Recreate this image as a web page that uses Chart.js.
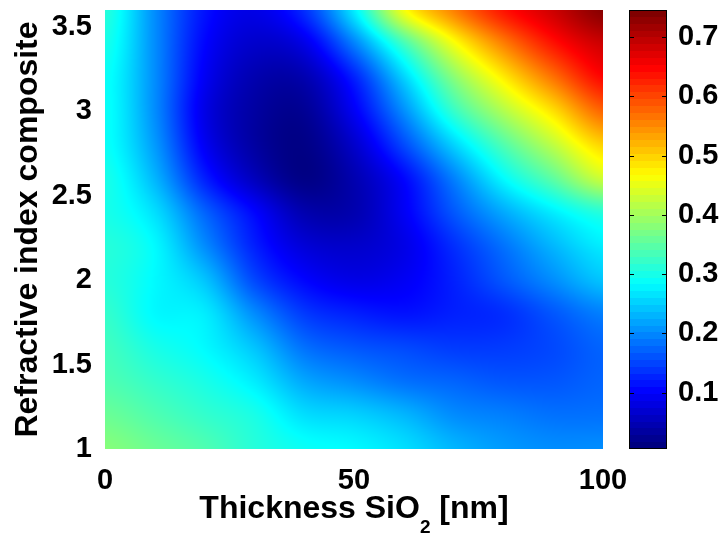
<!DOCTYPE html>
<html>
<head>
<meta charset="utf-8">
<script src="https://cdn.jsdelivr.net/npm/chart.js@4.4.1/dist/chart.umd.min.js"></script>
<style>
  html, body { margin: 0; padding: 0; background: #fff; }
  #wrap { position: relative; width: 720px; height: 535px; }
  #wrap canvas { position: absolute; left: 0; top: 0; }
</style>
</head>
<body>
<div id="wrap">
  <canvas id="mapChart" width="720" height="535"></canvas>
  <canvas id="barChart" width="720" height="535"></canvas>
</div>
<script>
// === DATA ===
// grid columns: SiO2 thickness (nm)
const thickness = [0, 10, 20, 30, 40, 50, 60, 70, 80, 90, 100];
// grid rows: refractive index of the composite
const refIndex = [1.0, 1.2, 1.4, 1.6, 1.8, 2.0, 2.2, 2.4, 2.6, 2.8, 3.0, 3.2, 3.4, 3.6];

// reflectance values, one row per refractive index
const n10 = [0.38, 0.36, 0.34, 0.31, 0.29, 0.28, 0.26, 0.23, 0.21, 0.20, 0.20];
const n12 = [0.36, 0.34, 0.32, 0.30, 0.26, 0.25, 0.23, 0.20, 0.19, 0.18, 0.18];
const n14 = [0.34, 0.32, 0.30, 0.27, 0.22, 0.20, 0.18, 0.17, 0.16, 0.16, 0.17];
const n16 = [0.33, 0.30, 0.28, 0.24, 0.18, 0.16, 0.15, 0.14, 0.14, 0.15, 0.17];
const n18 = [0.32, 0.28, 0.27, 0.20, 0.14, 0.12, 0.11, 0.12, 0.13, 0.16, 0.19];
const n20 = [0.31, 0.28, 0.24, 0.15, 0.10, 0.08, 0.09, 0.12, 0.16, 0.20, 0.24];
const n22 = [0.31, 0.28, 0.20, 0.12, 0.07, 0.06, 0.08, 0.13, 0.18, 0.23, 0.27];
const n24 = [0.30, 0.26, 0.17, 0.10, 0.04, 0.04, 0.09, 0.16, 0.22, 0.27, 0.31];
const n26 = [0.30, 0.23, 0.12, 0.05, 0.01, 0.04, 0.10, 0.19, 0.28, 0.35, 0.43];
const n28 = [0.29, 0.21, 0.09, 0.03, 0.01, 0.06, 0.15, 0.25, 0.34, 0.42, 0.50];
const n30 = [0.29, 0.20, 0.08, 0.03, 0.02, 0.09, 0.20, 0.32, 0.41, 0.49, 0.58];
const n32 = [0.29, 0.20, 0.09, 0.04, 0.04, 0.12, 0.25, 0.38, 0.48, 0.57, 0.65];
const n34 = [0.30, 0.20, 0.10, 0.06, 0.08, 0.19, 0.33, 0.46, 0.56, 0.64, 0.69];
const n36 = [0.31, 0.20, 0.11, 0.08, 0.13, 0.27, 0.46, 0.56, 0.64, 0.69, 0.74];
const reflectance = [n10, n12, n14, n16, n18, n20, n22, n24, n26, n28, n30, n32, n34, n36];

// tick labels
const xTicks = [0, 50, 100];
const yTicks = [1, 1.5, 2, 2.5, 3, 3.5];
const cbTicks = [0.1, 0.2, 0.3, 0.4, 0.5, 0.6, 0.7];

// colour limits of the colour bar
const cMin = 0.005;
const cMax = 0.746;

// === HELPERS ===
const FONT = "'Liberation Sans', Arial, sans-serif";

// MATLAB jet; levels = 0 gives a continuous map
function jet(t, levels) {
    t = Math.min(1, Math.max(0, t));
    if (levels) t = Math.min(levels - 1, Math.floor(t * levels)) / (levels - 1);
    const c = d => Math.round(255 * Math.min(1, Math.max(0, 1.5 - Math.abs(4 * t - d))));
    return [c(3), c(2), c(1)];
}

// Catmull-Rom between grid nodes (shading interp)
function cr(p0, p1, p2, p3, f) {
    return p1 + 0.5 * f * (p2 - p0 + f * (2 * p0 - 5 * p1 + 4 * p2 - p3 + f * (3 * (p1 - p2) + p3 - p0)));
}
function cellValue(tx, ny) {
    const nx = thickness.length, nyl = refIndex.length;
    const gx = (tx - thickness[0]) / (thickness[1] - thickness[0]);
    const gy = (ny - refIndex[0]) / (refIndex[1] - refIndex[0]);
    const xi = Math.max(0, Math.min(nx - 2, Math.floor(gx)));
    const yi = Math.max(0, Math.min(nyl - 2, Math.floor(gy + 1e-9)));
    const fx = Math.max(0, Math.min(1, gx - xi));
    const fy = Math.max(0, Math.min(1, gy - yi));
    const at = (i, j) => reflectance[Math.max(0, Math.min(nyl - 1, i))][Math.max(0, Math.min(nx - 1, j))];
    const rows = [];
    for (let k = -1; k <= 2; k++) {
        rows.push(cr(at(yi + k, xi - 1), at(yi + k, xi), at(yi + k, xi + 1), at(yi + k, xi + 2), fx));
    }
    return cr(rows[0], rows[1], rows[2], rows[3], fy);
}

// points of the grid, used by the heatmap plugin
const gridPoints = [];
refIndex.forEach((n, i) => thickness.forEach((t, j) => gridPoints.push({ x: t, y: n, v: reflectance[i][j] })));

// === PLUGINS ===
const heatmapPlugin = {
    id: 'heatmap',
    beforeDatasetsDraw(chart) {
        const { ctx, chartArea: a, scales: { x, y } } = chart;
        const w = Math.round(a.right - a.left), h = Math.round(a.bottom - a.top);
        const off = document.createElement('canvas');
        off.width = w; off.height = h;
        const octx = off.getContext('2d');
        const img = octx.createImageData(w, h);
        for (let py = 0; py < h; py++) {
            const n = y.getValueForPixel(a.top + py + 0.5);
            for (let px = 0; px < w; px++) {
                const t = x.getValueForPixel(a.left + px + 0.5);
                const [r, g, b] = jet((cellValue(t, n) - cMin) / (cMax - cMin), 0);
                const k = (py * w + px) * 4;
                img.data[k] = r; img.data[k + 1] = g; img.data[k + 2] = b; img.data[k + 3] = 255;
            }
        }
        octx.putImageData(img, 0, 0);
        ctx.drawImage(off, a.left, a.top);
    },
    afterDraw(chart) {
        // x title with subscript
        const { ctx, chartArea: a } = chart;
        const parts = [['Thickness SiO', 32, 518], ['2', 19, 533], [' [nm]', 32, 518]];
        ctx.save();
        ctx.fillStyle = '#000';
        ctx.textBaseline = 'alphabetic';
        let total = 0;
        const widths = parts.map(p => { ctx.font = `bold ${p[1]}px ${FONT}`; const m = ctx.measureText(p[0]).width; total += m; return m; });
        let cx = (a.left + a.right) / 2 - total / 2;
        parts.forEach((p, i) => {
            ctx.font = `bold ${p[1]}px ${FONT}`;
            ctx.fillText(p[0], cx, p[2]);
            cx += widths[i];
        });
        ctx.restore();
    }
};

const colorbarPlugin = {
    id: 'colorbar',
    beforeDraw(chart) {
        const { ctx, chartArea: a, scales: { y } } = chart;
        ctx.save();
        for (let py = Math.round(a.top); py < Math.round(a.bottom); py++) {
            const [r, g, b] = jet((y.getValueForPixel(py + 0.5) - cMin) / (cMax - cMin), 64);
            ctx.fillStyle = `rgb(${r},${g},${b})`;
            ctx.fillRect(a.left, py, a.right - a.left, 1);
        }
        ctx.strokeStyle = '#000';
        ctx.lineWidth = 1;
        ctx.strokeRect(a.left + 0.5, a.top + 0.5, a.right - a.left - 1, a.bottom - a.top - 1);
        cbTicks.forEach(v => {
            const py = Math.round(y.getPixelForValue(v)) + 0.5;
            ctx.beginPath();
            ctx.moveTo(a.left, py); ctx.lineTo(a.left + 5, py);
            ctx.moveTo(a.right, py); ctx.lineTo(a.right - 5, py);
            ctx.stroke();
        });
        ctx.restore();
    }
};

// === CHARTS ===
const tickFont = { family: FONT, size: 29, weight: 'bold' };

new Chart(document.getElementById('mapChart'), {
    type: 'scatter',
    data: {
        datasets: [{ data: gridPoints, pointRadius: 0, pointHoverRadius: 0 }]
    },
    options: {
        responsive: false,
        animation: false,
        layout: { padding: { top: 10, right: 117, left: 0, bottom: 0 } },
        plugins: { legend: { display: false }, tooltip: { enabled: false } },
        scales: {
            x: {
                type: 'linear', min: 0, max: 100,
                afterBuildTicks: s => { s.ticks = xTicks.map(v => ({ value: v })); },
                afterFit: s => { s.height = 86; s.paddingLeft = 0; s.paddingRight = 0; },
                ticks: { font: tickFont, color: '#000', padding: 7, maxRotation: 0, callback: v => String(v) },
                grid: { display: false },
                border: { display: false }
            },
            y: {
                type: 'linear', min: 1, max: 3.6,
                afterBuildTicks: s => { s.ticks = yTicks.map(v => ({ value: v })); },
                afterFit: s => { s.width = 105; s.paddingTop = 0; s.paddingBottom = 0; },
                ticks: { font: tickFont, color: '#000', padding: 5, callback: v => String(v) },
                grid: { display: false },
                border: { display: false },
                title: {
                    display: true,
                    text: 'Refractive index composite',
                    color: '#000',
                    font: { family: FONT, size: 32, weight: 'bold' },
                    padding: { top: 9, bottom: 0 }
                }
            }
        }
    },
    plugins: [heatmapPlugin]
});

new Chart(document.getElementById('barChart'), {
    type: 'scatter',
    data: { datasets: [] },
    options: {
        responsive: false,
        animation: false,
        layout: { padding: { top: 10, right: 0, left: 629, bottom: 86 } },
        plugins: { legend: { display: false }, tooltip: { enabled: false } },
        scales: {
            x: { type: 'linear', display: false, min: 0, max: 1 },
            y: {
                type: 'linear', position: 'right', min: cMin, max: cMax,
                afterBuildTicks: s => { s.ticks = cbTicks.map(v => ({ value: v })); },
                afterFit: s => { s.width = 53; s.paddingTop = 0; s.paddingBottom = 0; },
                ticks: { font: tickFont, color: '#000', padding: 3, callback: v => v.toFixed(1) },
                grid: { display: false },
                border: { display: false }
            }
        }
    },
    plugins: [colorbarPlugin]
});
</script>
</body>
</html>
